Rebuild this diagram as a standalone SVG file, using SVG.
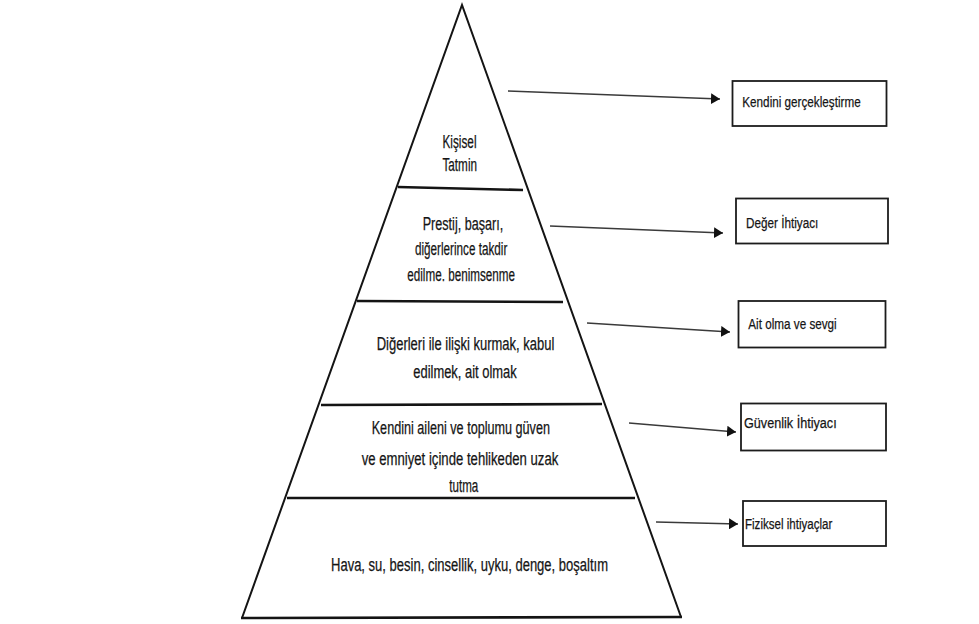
<svg xmlns="http://www.w3.org/2000/svg" width="979" height="624" viewBox="0 0 979 624">
  <style>
    .edge { stroke: #141414; stroke-width: 2; fill: none; stroke-linecap: round; }
    .div { stroke: #141414; stroke-width: 2.6; fill: none; }
    .txt { font-family: "Liberation Sans Narrow", "Liberation Sans", Arial, sans-serif; font-size: 17.5px; fill: #151515; stroke: #151515; stroke-width: 0.25; }
    .btxt { font-family: "Liberation Sans Narrow", "Liberation Sans", Arial, sans-serif; font-size: 15.5px; fill: #151515; stroke: #151515; stroke-width: 0.25; }
    .box { fill: #ffffff; stroke: #1c1c1c; stroke-width: 1.8; }
    .arr { stroke: #3a3a3a; stroke-width: 1.6; fill: none; }
  </style>
  <defs>
    <marker id="ah" markerUnits="userSpaceOnUse" markerWidth="10" markerHeight="11" refX="9" refY="5.5" orient="auto">
      <path d="M0,0 L9,5.5 L0,11 z" fill="#111"/>
    </marker>
  </defs>
  <rect x="0" y="0" width="979" height="624" fill="#ffffff"/>

  <g id="pyramid">
    <path class="edge" d="M242,618 L462,5 L681,617"/>
    <line class="div" x1="241" y1="618" x2="682" y2="617" stroke-width="2.8"/>
  </g>

  <g id="level1">
    <line class="div" x1="398" y1="187" x2="523" y2="190" stroke-width="3"/>
    <text class="txt" x="442.5" y="147.5" textLength="34" lengthAdjust="spacingAndGlyphs">Kişisel</text>
    <text class="txt" x="442.5" y="170.5" textLength="34.5" lengthAdjust="spacingAndGlyphs">Tatmin</text>
  </g>

  <g id="level2">
    <line class="div" x1="357" y1="301" x2="563" y2="302"/>
    <text class="txt" x="422.7" y="229.5" textLength="80.6" lengthAdjust="spacingAndGlyphs">Prestij, başarı,</text>
    <text class="txt" x="415" y="255" textLength="92.3" lengthAdjust="spacingAndGlyphs">diğerlerince takdir</text>
    <text class="txt" x="407.3" y="280.5" textLength="107.7" lengthAdjust="spacingAndGlyphs">edilme. benimsenme</text>
  </g>

  <g id="level3">
    <line class="div" x1="321" y1="405" x2="602" y2="404"/>
    <text class="txt" x="376.7" y="350" textLength="177.6" lengthAdjust="spacingAndGlyphs">Diğerleri ile ilişki kurmak, kabul</text>
    <text class="txt" x="413.3" y="378" textLength="103.4" lengthAdjust="spacingAndGlyphs">edilmek, ait olmak</text>
  </g>

  <g id="level4">
    <line class="div" x1="287" y1="498" x2="635" y2="498"/>
    <text class="txt" x="371.7" y="434" textLength="178.3" lengthAdjust="spacingAndGlyphs">Kendini aileni ve toplumu güven</text>
    <text class="txt" x="361.7" y="464.5" textLength="196.6" lengthAdjust="spacingAndGlyphs">ve emniyet içinde tehlikeden uzak</text>
    <text class="txt" x="449.3" y="491.5" textLength="29" lengthAdjust="spacingAndGlyphs">tutma</text>
  </g>

  <g id="level5">
    <text class="txt" x="331" y="570.5" textLength="277" lengthAdjust="spacingAndGlyphs">Hava, su, besin, cinsellik, uyku, denge, boşaltım</text>
  </g>

  <g id="box-kendini">
    <rect class="box" x="732.5" y="81" width="154" height="45"/>
    <text class="btxt" x="742.3" y="107" textLength="118.4" lengthAdjust="spacingAndGlyphs">Kendini gerçekleştirme</text>
  </g>
  <g id="box-deger">
    <rect class="box" x="736" y="198.5" width="152" height="45"/>
    <text class="btxt" x="746" y="227.5" textLength="72.3" lengthAdjust="spacingAndGlyphs">Değer İhtiyacı</text>
  </g>
  <g id="box-ait">
    <rect class="box" x="738.5" y="301" width="147" height="46.5"/>
    <text class="btxt" x="748.3" y="329" textLength="88.4" lengthAdjust="spacingAndGlyphs">Ait olma ve sevgi</text>
  </g>
  <g id="box-guvenlik">
    <rect class="box" x="741" y="403.5" width="145" height="47"/>
    <text class="btxt" x="744" y="428" textLength="92.7" lengthAdjust="spacingAndGlyphs">Güvenlik İhtiyacı</text>
  </g>
  <g id="box-fiziksel">
    <rect class="box" x="743" y="501" width="143" height="45"/>
    <text class="btxt" x="745" y="529" textLength="87.3" lengthAdjust="spacingAndGlyphs">Fiziksel ihtiyaçlar</text>
  </g>

  <g id="connectors">
    <line class="arr" x1="508" y1="91" x2="720" y2="99" marker-end="url(#ah)"/>
    <line class="arr" x1="550" y1="226" x2="723" y2="233" marker-end="url(#ah)"/>
    <line class="arr" x1="587" y1="323" x2="730" y2="332" marker-end="url(#ah)"/>
    <line class="arr" x1="629" y1="423" x2="736" y2="432" marker-end="url(#ah)"/>
    <line class="arr" x1="656" y1="522" x2="738" y2="524" marker-end="url(#ah)"/>
  </g>
</svg>
